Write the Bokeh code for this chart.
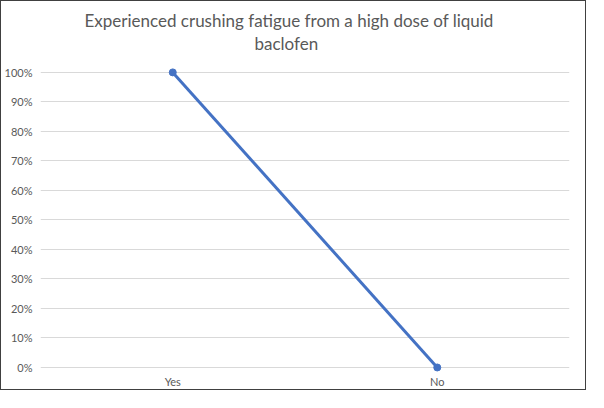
from bokeh.plotting import figure
from bokeh.models import FactorRange, Range1d, NumeralTickFormatter, FixedTicker, Title
from bokeh.embed import file_html
from bokeh.resources import INLINE

title_line1 = "Experienced crushing fatigue from a high dose of liquid"
title_line2 = "baclofen"
categories = ["Yes", "No"]
values = [1.0, 0.0]
y_ticks = [0, 0.1, 0.2, 0.3, 0.4, 0.5, 0.6, 0.7, 0.8, 0.9, 1.0]

FONT = "Lato"
GRAY = "#595959"

p = figure(width=586, height=390, output_backend="svg", toolbar_location=None,
           x_range=FactorRange(*categories, range_padding=0),
           y_range=Range1d(-0.017, 1.064),
           min_border_left=39, min_border_right=18, min_border_bottom=19,
           min_border_top=52)
p.styles = {"border": "1px solid #404040"}

def style_title(t, offset):
    t.align = "left"
    t.offset = offset
    t.standoff = 0
    t.text_font = FONT
    t.text_font_size = "17px"
    t.text_font_style = "normal"
    t.text_color = GRAY

# p.title sits outermost; the extra Title is placed nearer the plot
p.title.text = title_line1
style_title(p.title, 44)
t2 = Title(text=title_line2)
style_title(t2, 214)
p.add_layout(t2, "above")

p.line(categories, values, line_color="#4472C4", line_width=3)
p.scatter(categories, values, size=7, fill_color="#4472C4", line_color="#4472C4")

p.yaxis.ticker = FixedTicker(ticks=y_ticks)
p.yaxis.formatter = NumeralTickFormatter(format="0%")
for ax in (p.xaxis[0], p.yaxis[0]):
    ax.major_label_text_font = FONT
    ax.major_label_text_font_size = "11px"
    ax.major_label_text_color = GRAY
    ax.major_tick_line_color = None
    ax.minor_tick_line_color = None
    ax.major_tick_out = 0
    ax.major_tick_in = 0
    ax.minor_tick_out = 0
    ax.minor_tick_in = 0
p.yaxis.axis_line_color = None
p.yaxis.major_label_standoff = 8
p.xaxis.axis_line_color = None
p.xaxis.major_label_standoff = 2

p.xgrid.grid_line_color = None
p.ygrid.ticker = FixedTicker(ticks=y_ticks)
p.ygrid.grid_line_color = "#D9D9D9"
p.ygrid.grid_line_width = 1
p.outline_line_color = None

open("out.html", "w").write(file_html(p, INLINE))
